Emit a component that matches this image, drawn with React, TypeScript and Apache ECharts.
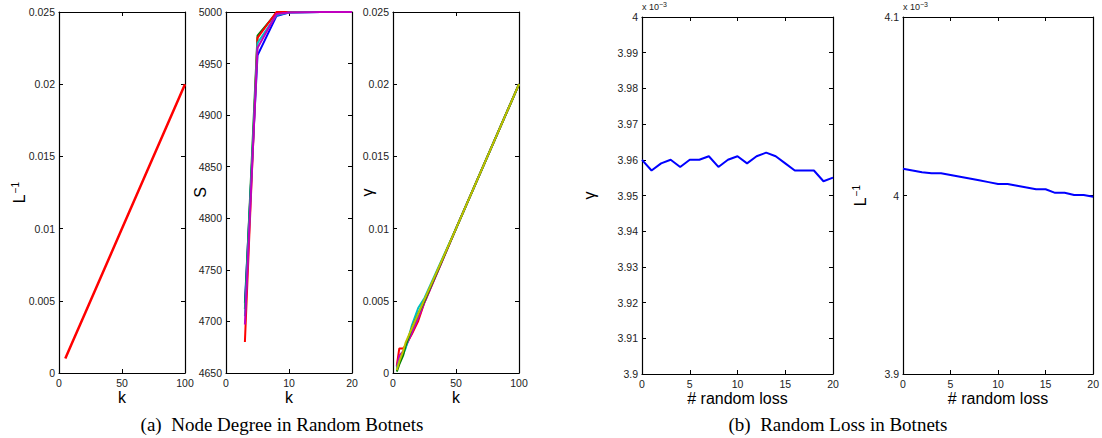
import React, { useEffect, useRef } from "react";
import * as echarts from "echarts";

// Panel (a1): L^-1 vs k
const K1 = [5, 10, 20, 50, 100];
const L1_RED = [0.001, 0.002, 0.004, 0.01, 0.02];

// Panel (a2): S vs k
const K2 = [3, 5, 8, 10, 15, 20];
const S_BLUE = [4718, 4958, 4996, 4999.5, 5000, 5000];
const S_GREEN = [4712, 4977, 4999, 5000, 5000, 5000];
const S_RED = [4680, 4975, 5000, 5000, 5000, 5000];
const S_CYAN = [4705, 4970, 4997, 4999.5, 5000, 5000];
const S_MAGENTA = [4697, 4965, 4998, 4999.5, 5000, 5000];

// Panel (a3): gamma vs k
const K3 = [3, 5, 8, 10, 15, 20, 25, 50, 100];
const G_RED = [0.0005, 0.0017, 0.0017, 0.0019, 0.0027, 0.0036, 0.0049, 0.01, 0.02];
const G_MAGENTA = [0.0004, 0.0012, 0.0015, 0.0018, 0.0028, 0.0038, 0.0049, 0.01, 0.02];
const G_CYAN = [0.0003, 0.0008, 0.0013, 0.0017, 0.0033, 0.0045, 0.0052, 0.01, 0.02];
const G_GREEN = [0.0001, 0.0006, 0.0012, 0.0019, 0.0031, 0.0041, 0.005, 0.01, 0.02];
const G_YELLOW = [0.0002, 0.0008, 0.0015, 0.0021, 0.0031, 0.0041, 0.0051, 0.01, 0.02];

// Panel (b1), (b2): random loss (values in units of 10^-3)
const LOSS = [0, 1, 2, 3, 4, 5, 6, 7, 8, 9, 10, 11, 12, 13, 14, 15, 16, 17, 18, 19, 20];
const GAMMA_LOSS = [3.96, 3.957, 3.959, 3.96, 3.958, 3.96, 3.96, 3.961, 3.958, 3.96, 3.961, 3.959, 3.961, 3.962, 3.961, 3.959, 3.957, 3.957, 3.957, 3.954, 3.955];
const LINV_LOSS = [4.015, 4.014, 4.013, 4.0125, 4.0125, 4.0115, 4.0105, 4.0095, 4.0085, 4.0075, 4.0065, 4.0065, 4.0055, 4.0045, 4.0035, 4.0035, 4.0015, 4.0015, 4.0003, 4.0003, 3.9993];

const CAPTION_A = "(a)  Node Degree in Random Botnets";
const CAPTION_B = "(b)  Random Loss in Botnets";

const C = {
  blue: "#0000ff",
  green: "#008000",
  red: "#ff0000",
  cyan: "#00bfbf",
  magenta: "#bf00bf",
  yellow: "#bfbf00",
};

const SANS = "Liberation Sans, Arial, Helvetica, sans-serif";
const SERIF = "Liberation Serif, Times New Roman, serif";

function zip(xs: number[], ys: number[]) {
  return xs.map((x, i) => [x, ys[i]]);
}

export default function App() {
  const ref = useRef<HTMLDivElement>(null);
  useEffect(() => {
    if (!ref.current) return;
    const chart = echarts.init(ref.current, null, { renderer: "svg" });

    const grids = [
      { left: 59, top: 12, width: 126, height: 361 },
      { left: 226, top: 12, width: 126, height: 361 },
      { left: 393, top: 12, width: 126, height: 361 },
      { left: 642, top: 17, width: 191, height: 357 },
      { left: 903, top: 17, width: 192, height: 357 },
    ];

    const axisLine = { show: true, onZero: false, lineStyle: { color: "#000", width: 1.2 } };
    const axisTick = { show: true, inside: true, length: 4, lineStyle: { color: "#000" } };
    const fmt = (v: number) => String(Math.round(v * 1e6) / 1e6);
    const axisLabel = { fontSize: 10.5, color: "#222", fontFamily: SANS, margin: 4, formatter: fmt };
    const nameStyle = { fontSize: 16, color: "#000", fontFamily: SANS };

    const xSpecs = [
      { min: 0, max: 100, interval: 50, name: "k" },
      { min: 0, max: 20, interval: 10, name: "k" },
      { min: 0, max: 100, interval: 50, name: "k" },
      { min: 0, max: 20, interval: 5, name: "# random loss" },
      { min: 0, max: 20, interval: 5, name: "# random loss" },
    ];
    const ySpecs = [
      { min: 0, max: 0.025, interval: 0.005, name: "{a|L}{b|−1}", gap: 30 },
      { min: 4650, max: 5000, interval: 50, name: "S", gap: 18 },
      { min: 0, max: 0.025, interval: 0.005, name: "γ", gap: 18 },
      { min: 3.9, max: 4.0, interval: 0.01, name: "γ", gap: 45 },
      { min: 3.9, max: 4.1, interval: 0.1, name: "{a|L}{b|−1}", gap: 33 },
    ];
    const rich = {
      a: { fontSize: 16, fontFamily: SANS, color: "#000" },
      b: { fontSize: 10, fontFamily: SANS, color: "#000", padding: [0, 0, 9, 1] },
    };

    const xAxis: any[] = [];
    const yAxis: any[] = [];
    xSpecs.forEach((s, i) => {
      xAxis.push({
        type: "value", gridIndex: i, min: s.min, max: s.max, interval: s.interval,
        axisLine, axisTick, axisLabel, splitLine: { show: false },
        name: s.name, nameLocation: "middle", nameGap: 16, nameTextStyle: nameStyle,
        nameMoveOverlap: false,
      });
      xAxis.push({
        type: "value", gridIndex: i, position: "top", min: s.min, max: s.max, interval: s.interval,
        axisLine, axisTick, axisLabel: { show: false }, splitLine: { show: false },
      });
    });
    ySpecs.forEach((s, i) => {
      yAxis.push({
        type: "value", gridIndex: i, min: s.min, max: s.max, interval: s.interval,
        axisLine, axisTick, axisLabel, splitLine: { show: false },
        name: s.name, nameLocation: "middle", nameGap: s.gap, nameRotate: 90,
        nameTextStyle: { ...nameStyle, rich },
        nameMoveOverlap: false,
      });
      yAxis.push({
        type: "value", gridIndex: i, position: "right", min: s.min, max: s.max, interval: s.interval,
        axisLine, axisTick, axisLabel: { show: false }, splitLine: { show: false },
      });
    });

    const line = (gi: number, xs: number[], ys: number[], color: string, width = 2) => ({
      type: "line",
      xAxisIndex: gi * 2,
      yAxisIndex: gi * 2,
      data: zip(xs, ys),
      showSymbol: false,
      symbol: "none",
      lineStyle: { color, width },
      itemStyle: { color },
      z: 3,
    });

    const series = [
      line(0, K1, L1_RED, C.red, 2.5),
      line(1, K2, S_BLUE, C.blue),
      line(1, K2, S_GREEN, C.green),
      line(1, K2, S_RED, C.red),
      line(1, K2, S_CYAN, C.cyan),
      line(1, K2, S_MAGENTA, C.magenta),
      line(2, K3, G_RED, C.red),
      line(2, K3, G_MAGENTA, C.magenta),
      line(2, K3, G_CYAN, C.cyan),
      line(2, K3, G_GREEN, C.green),
      line(2, K3, G_YELLOW, C.yellow),
      line(3, LOSS, GAMMA_LOSS, C.blue),
      line(4, LOSS, LINV_LOSS, C.blue),
    ];

    const expRich = {
      a: { fontSize: 9, fontFamily: SANS, fill: "#222" },
      b: { fontSize: 7, fontFamily: SANS, fill: "#222", padding: [0, 0, 5, 0] },
    };

    chart.setOption({
      animation: false,
      backgroundColor: "#fff",
      grid: grids,
      xAxis,
      yAxis,
      series,
      graphic: [
        { type: "text", left: 642, top: 1, style: { text: "{a|x 10}{b|−3}", rich: expRich } },
        { type: "text", left: 903, top: 1, style: { text: "{a|x 10}{b|−3}", rich: expRich } },
        {
          type: "text", x: 282, y: 415,
          style: { text: CAPTION_A, font: `19px ${SERIF}`, fill: "#000", textAlign: "center" },
        },
        {
          type: "text", x: 838, y: 415,
          style: { text: CAPTION_B, font: `19px ${SERIF}`, fill: "#000", textAlign: "center" },
        },
      ],
    });
    return () => chart.dispose();
  }, []);
  return (
    <div
      ref={ref}
      style={{ position: "fixed", left: 0, top: 0, width: 1102, height: 438, background: "#fff" }}
    />
  );
}
